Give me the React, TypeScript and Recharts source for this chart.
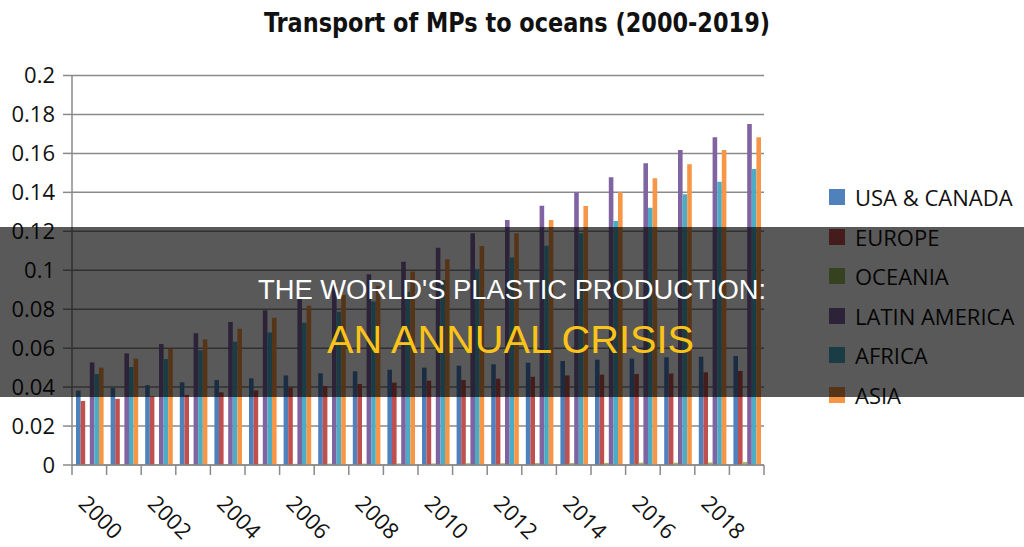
import React from "react";
import { BarChart, Bar, XAxis, YAxis, CartesianGrid, Legend } from "recharts";

const years = [
  "2000", "2001", "2002", "2003", "2004", "2005", "2006", "2007", "2008", "2009",
  "2010", "2011", "2012", "2013", "2014", "2015", "2016", "2017", "2018", "2019",
];

const usaCanada = [
  0.0382, 0.0395, 0.041, 0.0425, 0.0436, 0.0445, 0.046, 0.0471, 0.0481, 0.0489,
  0.05, 0.051, 0.0517, 0.0525, 0.0534, 0.0541, 0.0546, 0.0553, 0.0556, 0.056,
];
const europe = [
  0.0329, 0.034, 0.0353, 0.036, 0.0373, 0.0383, 0.0397, 0.0406, 0.0416, 0.0423,
  0.0433, 0.0436, 0.0443, 0.0453, 0.046, 0.0464, 0.0467, 0.047, 0.0476, 0.0483,
];
const oceania = [
  0.0004, 0.0004, 0.0005, 0.0005, 0.0005, 0.0006, 0.0006, 0.0007, 0.0007, 0.0008,
  0.0008, 0.0009, 0.0009, 0.001, 0.001, 0.0011, 0.0012, 0.0012, 0.0013, 0.0015,
];
const latinAmerica = [
  0.0527, 0.0573, 0.0621, 0.0676, 0.0734, 0.0794, 0.0859, 0.0926, 0.098, 0.1044,
  0.1116, 0.119, 0.1258, 0.1331, 0.14, 0.1477, 0.1549, 0.1617, 0.1683, 0.1751,
];
const africa = [
  0.0467, 0.0503, 0.0544, 0.0589, 0.0633, 0.0681, 0.0731, 0.0787, 0.0839, 0.089,
  0.095, 0.1005, 0.1065, 0.1126, 0.119, 0.1253, 0.1321, 0.139, 0.1455, 0.152,
];
const asia = [
  0.05, 0.0546, 0.0597, 0.0645, 0.07, 0.0756, 0.0818, 0.0873, 0.092, 0.0993,
  0.1056, 0.1124, 0.119, 0.1258, 0.133, 0.14, 0.1472, 0.1544, 0.1617, 0.1683,
];

const seriesNames = ["USA & CANADA", "EUROPE", "OCEANIA", "LATIN AMERICA", "AFRICA", "ASIA"];
const seriesValues = [usaCanada, europe, oceania, latinAmerica, africa, asia];
const yTicks = [0, 0.02, 0.04, 0.06, 0.08, 0.1, 0.12, 0.14, 0.16, 0.18, 0.2];

const COLORS = ["#4F81BD", "#C0504D", "#9BBB59", "#8064A2", "#4BACC6", "#F79646"];

const data = years.map((year, i) => {
  const row: Record<string, string | number> = { year };
  seriesValues.forEach((vals, s) => {
    row[`s${s}`] = vals[i];
  });
  return row;
});

const W = 1024;
const H = 547;
const MARGIN = { top: 75.5, right: 260, bottom: 0, left: 0 };
const Y_AXIS_W = 72;
const X_AXIS_H = 82;
const BAND = (W - MARGIN.right - MARGIN.left - Y_AXIS_W) / years.length;
const GRID = "#8a8a8a";
const FONT = "'Open Sans', 'Noto Sans', sans-serif";

const YearTick = (props: any) => {
  const { x, y, payload } = props;
  const idx = payload.index ?? years.indexOf(String(payload.value));
  const left = x - BAND / 2;
  return (
    <g>
      <line x1={left} x2={left} y1={y} y2={y + 10} stroke={GRID} strokeWidth={1.5} />
      {idx === years.length - 1 && (
        <line x1={x + BAND / 2} x2={x + BAND / 2} y1={y} y2={y + 10} stroke={GRID} strokeWidth={1.5} />
      )}
      {idx % 2 === 0 && (
        <text
          transform={`translate(${x - 12},${y + 40}) rotate(45)`}
          fontSize={22}
          fontFamily={FONT}
          fill="#111"
        >
          {payload.value}
        </text>
      )}
    </g>
  );
};

const LegendContent = (props: any) => {
  const fromChart = (props.payload || []) as any[];
  // keep the series order (recharts sorts legend items by name)
  const items = seriesNames.map((n, i) => {
    const hit = fromChart.find((p) => p.value === n);
    return { value: n, color: hit ? hit.color : COLORS[i] };
  });
  return (
    <div style={{ position: "absolute", left: 0, top: 0, whiteSpace: "nowrap" }}>
      {items.map((it) => (
        <div key={it.value} style={{ display: "flex", alignItems: "center", height: 39.6 }}>
          <span
            style={{ width: 16, height: 16, background: it.color, display: "inline-block", marginRight: 10 }}
          />
          <span style={{ fontFamily: FONT, fontSize: 22, color: "#111", lineHeight: "22px" }}>
            {it.value}
          </span>
        </div>
      ))}
    </div>
  );
};

export default function App() {
  return (
    <div style={{ position: "absolute", left: 0, top: 0, width: W, height: H, background: "#fff", overflow: "hidden" }}>
      <BarChart width={W} height={H} data={data} margin={MARGIN} barSize={4.6} barGap={0}>
        <CartesianGrid vertical={false} stroke={GRID} strokeWidth={1.5} />
        <XAxis
          dataKey="year"
          type="category"
          interval={0}
          height={X_AXIS_H}
          tickLine={false}
          tickSize={0}
          tickMargin={0}
          axisLine={{ stroke: GRID, strokeWidth: 1.5 }}
          tick={<YearTick />}
        />
        <YAxis
          width={Y_AXIS_W}
          domain={[0, 0.2]}
          ticks={yTicks}
          interval={0}
          tickSize={9}
          tickMargin={8}
          axisLine={{ stroke: GRID, strokeWidth: 1.5 }}
          tickLine={{ stroke: GRID, strokeWidth: 1.5 }}
          tick={{ fontSize: 22, fontFamily: FONT, fill: "#111" }}
          tickFormatter={(v: number) => String(Number(v.toFixed(2)))}
        />
        <Legend
          layout="vertical"
          align="right"
          verticalAlign="top"
          content={<LegendContent />}
          wrapperStyle={{ position: "absolute", left: 829, top: 177.2, width: 0, height: 0 }}
        />
        {seriesNames.map((name, s) => (
          <Bar key={name} dataKey={`s${s}`} name={name} fill={COLORS[s]} isAnimationActive={false} />
        ))}
      </BarChart>
      <svg
        width={W}
        height={H}
        style={{ position: "absolute", left: 0, top: 0, pointerEvents: "none", zIndex: 10 }}
      >
        <text
          x={264}
          y={32}
          fontSize={26}
          fontWeight="bold"
          fill="#111"
          fontFamily="'Liberation Sans Narrow', 'DejaVu Sans Condensed', 'Open Sans', sans-serif"
          textLength={506}
          lengthAdjust="spacingAndGlyphs"
        >
          Transport of MPs to oceans (2000-2019)
        </text>
        <rect x={0} y={227} width={W} height={170} fill="rgba(0,0,0,0.65)" />
        <text
          x={258}
          y={299}
          fontSize={27}
          fill="#ffffff"
          fontFamily="'Liberation Sans', Arial, sans-serif"
          textLength={508}
          lengthAdjust="spacingAndGlyphs"
        >
          THE WORLD'S PLASTIC PRODUCTION:
        </text>
        <text
          x={327}
          y={353}
          fontSize={38}
          fill="#FCC419"
          fontFamily="'Liberation Sans', Arial, sans-serif"
          textLength={367}
          lengthAdjust="spacingAndGlyphs"
        >
          AN ANNUAL CRISIS
        </text>
      </svg>
    </div>
  );
}
